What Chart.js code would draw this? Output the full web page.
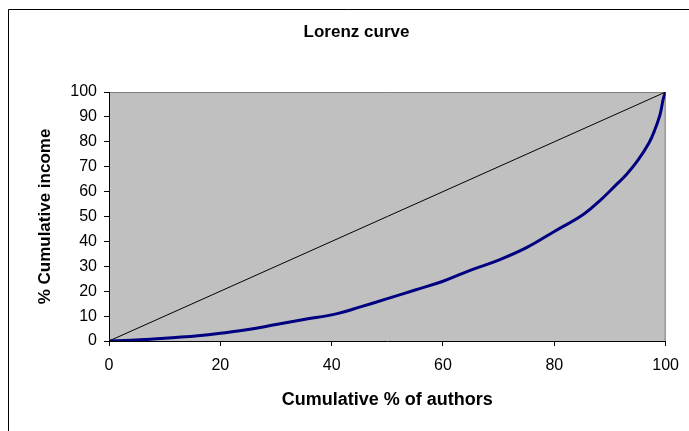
<!DOCTYPE html>
<html>
<head>
<meta charset="utf-8">
<script src="https://cdn.jsdelivr.net/npm/chart.js@4"></script>
<style>
html,body{margin:0;padding:0;background:#fff;}
#wrap{width:689px;height:431px;position:relative;}
</style>
</head>
<body>
<div id="wrap"><canvas id="c" width="689" height="431"></canvas></div>
<script>
// Data
const authorsPct = [0, 4, 8, 12, 16, 20, 25, 30, 35, 41, 45, 50, 55, 60, 65, 70, 75, 80, 85, 88, 91, 93, 95, 97, 98, 99, 99.6, 100];
const incomePct  = [0, 0.3, 0.8, 1.4, 2.1, 3.1, 4.6, 6.6, 8.6, 11, 13.6, 17, 20.5, 24, 28.5, 32.5, 37.5, 44, 50.5, 56, 62.5, 67, 72.5, 79.5, 84.5, 91, 97.5, 100];
const equalityX = [0, 100];
const equalityY = [0, 100];
const titleText = 'Lorenz curve';
const xTitle = 'Cumulative % of authors';
const yTitle = '% Cumulative income';

const FONT = "'Liberation Sans', Arial, sans-serif";

const bgPlugin = {
  id: 'bgPlugin',
  beforeDraw(chart) {
    const {ctx, chartArea: a} = chart;
    ctx.save();
    ctx.strokeStyle = '#000';
    ctx.lineWidth = 1;
    ctx.beginPath();
    ctx.moveTo(8.5, 431);
    ctx.lineTo(8.5, 9.5);
    ctx.lineTo(689, 9.5);
    ctx.stroke();
    ctx.fillStyle = '#C0C0C0';
    ctx.fillRect(a.left, a.top, a.right - a.left, a.bottom - a.top);
    ctx.strokeStyle = '#808080';
    ctx.beginPath();
    ctx.moveTo(a.left, a.top + 0.5);
    ctx.lineTo(a.right - 0.5, a.top + 0.5);
    ctx.lineTo(a.right - 0.5, a.bottom);
    ctx.stroke();
    ctx.restore();
  }
};

new Chart(document.getElementById('c'), {
  type: 'scatter',
  data: {
    datasets: [
      {
        label: 'Lorenz',
        data: authorsPct.map((x, i) => ({x, y: incomePct[i]})),
        showLine: true,
        borderColor: '#000080',
        borderWidth: 3,
        pointRadius: 0,
        tension: 0.4,
        order: 1
      },
      {
        label: 'Equality',
        data: equalityX.map((x, i) => ({x, y: equalityY[i]})),
        showLine: true,
        borderColor: '#000',
        borderWidth: 1,
        pointRadius: 0,
        order: 0
      }
    ]
  },
  plugins: [bgPlugin],
  options: {
    responsive: false,
    animation: false,
    layout: {padding: {left: 24, right: 0, top: 0, bottom: 0}},
    plugins: {
      legend: {display: false},
      tooltip: {enabled: false},
      title: {
        display: true,
        text: titleText,
        color: '#000',
        font: {family: FONT, size: 17, weight: 'bold'},
        padding: {top: 21.8, bottom: 49.8}
      }
    },
    scales: {
      x: {
        type: 'linear',
        min: 0, max: 100,
        afterFit(s) { s.height = 90; },
        ticks: {stepSize: 20, color: '#000', padding: 10, font: {family: FONT, size: 16}, maxRotation: 0},
        grid: {drawOnChartArea: false, drawTicks: true, tickLength: 5, color: '#000'},
        border: {display: true, color: '#000', width: 1},
        title: {display: true, text: xTitle, color: '#000', font: {family: FONT, size: 18, weight: 'bold'}, padding: {top: 0, bottom: 20.2}}
      },
      y: {
        type: 'linear',
        min: 0, max: 100,
        afterFit(s) { s.width = 85; },
        ticks: {stepSize: 10, color: '#000', padding: 7, font: {family: FONT, size: 16}},
        grid: {drawOnChartArea: false, drawTicks: true, tickLength: 5, color: '#000'},
        border: {display: true, color: '#000', width: 1},
        title: {display: true, text: yTitle, color: '#000', font: {family: FONT, size: 17, weight: 'bold'}, padding: {top: 10.8, bottom: 0}}
      },
      y2: {
        position: 'right',
        display: true,
        afterFit(s) { s.width = 21; },
        ticks: {display: false},
        grid: {display: false},
        border: {display: false}
      }
    }
  }
});
</script>
</body>
</html>
